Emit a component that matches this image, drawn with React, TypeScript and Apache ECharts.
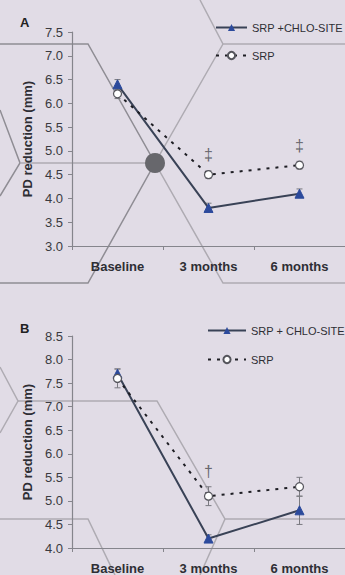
import React, { useEffect, useRef } from "react";
import * as echarts from "echarts";

const categories = ["Baseline", "3 months", "6 months"];

// Panel A
const comboNameA = "SRP +CHLO-SITE";
const comboA = [6.4, 3.8, 4.1];
const comboErrA = [[6.3, 6.5], [3.72, 3.9], [4.02, 4.2]];
const srpA = [6.2, 4.5, 4.7];
const srpErrA = [[6.1, 6.3], [4.42, 4.58], [4.62, 4.78]];
const marksA = [[1, 4.93, "‡"], [2, 5.12, "‡"]];
const yTicksA = { min: 3, max: 7.5, interval: 0.5 };

// Panel B
const comboNameB = "SRP + CHLO-SITE";
const comboB = [7.7, 4.2, 4.8];
const comboErrB = [[7.6, 7.8], [4.15, 4.28], [4.5, 5.1]];
const srpB = [7.6, 5.1, 5.3];
const srpErrB = [[7.4, 7.8], [4.9, 5.3], [5.1, 5.5]];
const marksB = [[1, 5.62, "†"]];
const yTicksB = { min: 4, max: 8.5, interval: 0.5 };

const srpName = "SRP";

const FONT = "Liberation Sans, Arial, sans-serif";
const BG = "#e1dce6";

function errSeries(errs: number[][], axisIdx: number) {
  return {
    type: "custom",
    xAxisIndex: axisIdx,
    yAxisIndex: axisIdx,
    z: 1,
    silent: true,
    data: errs.map((e, i) => [i, e[0], e[1]]),
    renderItem: (params: any, api: any) => {
      const lo = api.coord([api.value(0), api.value(1)]);
      const hi = api.coord([api.value(0), api.value(2)]);
      const w = 3;
      const style = { stroke: "#7a7a80", lineWidth: 1 };
      return {
        type: "group",
        children: [
          { type: "line", shape: { x1: lo[0], y1: lo[1], x2: hi[0], y2: hi[1] }, style },
          { type: "line", shape: { x1: lo[0] - w, y1: lo[1], x2: lo[0] + w, y2: lo[1] }, style },
          { type: "line", shape: { x1: hi[0] - w, y1: hi[1], x2: hi[0] + w, y2: hi[1] }, style },
        ],
      };
    },
  };
}

function comboSeries(name: string, data: number[], idx: number) {
  return {
    name,
    type: "line",
    xAxisIndex: idx,
    yAxisIndex: idx,
    data,
    z: 3,
    symbol: "triangle",
    symbolSize: 9,
    lineStyle: { color: "#394256", width: 2 },
    itemStyle: { color: "#2c4a9c", borderColor: "#2c4a9c" },
  };
}

function srpSeries(data: number[], idx: number) {
  return {
    name: srpName,
    type: "line",
    xAxisIndex: idx,
    yAxisIndex: idx,
    data,
    z: 4,
    symbol: "circle",
    symbolSize: 8,
    lineStyle: { color: "#1e1e24", width: 2, type: [3, 6] },
    itemStyle: { color: "#ffffff", borderColor: "#55555c", borderWidth: 1.2 },
  };
}

function markSeries(marks: any[], idx: number) {
  return {
    type: "scatter",
    xAxisIndex: idx,
    yAxisIndex: idx,
    symbolSize: 1,
    itemStyle: { color: "rgba(0,0,0,0)" },
    silent: true,
    data: marks.map((m) => [m[0], m[1], m[2]]),
    label: {
      show: true,
      position: "inside",
      formatter: (p: any) => p.value[2],
      color: "#48484e",
      fontSize: 16,
      fontFamily: FONT,
    },
  };
}

function yAxis(t: any, idx: number) {
  return {
    type: "value",
    gridIndex: idx,
    min: t.min,
    max: t.max,
    interval: t.interval,
    name: "PD reduction (mm)",
    nameLocation: "middle",
    nameGap: 38,
    nameTextStyle: { fontFamily: FONT, fontSize: 13, fontWeight: "bold", color: "#2e2e34" },
    axisLine: { show: true, lineStyle: { color: "#85858c", width: 1.2 } },
    axisTick: { show: true, length: 4, lineStyle: { color: "#85858c" } },
    axisLabel: {
      fontFamily: FONT,
      fontSize: 13,
      color: "#3a3a40",
      margin: 9,
      formatter: (v: number) => v.toFixed(1),
    },
    splitLine: { show: false },
  };
}

function xAxis(idx: number) {
  return {
    type: "category",
    gridIndex: idx,
    data: categories,
    boundaryGap: true,
    axisLine: { show: true, lineStyle: { color: "#85858c", width: 1.2 } },
    axisTick: { show: true, length: 4, lineStyle: { color: "#85858c" } },
    axisLabel: { fontFamily: FONT, fontSize: 13, fontWeight: "bold", color: "#2e2e34", margin: 14 },
  };
}

const hexLines: number[][][] = [
  // panel A
  [[0, 44], [88, 44], [155, 163], [88, 283], [0, 283]],
  [[0, 110], [20, 163], [0, 196]],
  [[20, 163], [155, 163]],
  [[200, 0], [223, 44], [345, 44]],
  [[223, 44], [155, 163], [223, 283], [345, 283]],
  // panel B
  [[0, 367], [18, 401], [0, 433]],
  [[18, 401], [157, 401], [225, 519], [345, 519]],
  [[225, 519], [200, 575]],
  [[0, 519], [88, 519], [115, 575]],
];

export default function App() {
  const ref = useRef<HTMLDivElement>(null);
  useEffect(() => {
    if (!ref.current) return;
    const chart = echarts.init(ref.current, undefined, { renderer: "svg" });
    const graphics: any[] = hexLines.map((pts, i) => ({
      type: "polyline",
      z: -10,
      silent: true,
      shape: { points: pts },
      style: { stroke: i < 2 ? "#8f8d94" : "#aeabb2", lineWidth: 1.5, fill: null },
    }));
    graphics.push({
      type: "circle",
      z: -9,
      shape: { cx: 155, cy: 163, r: 10 },
      style: { fill: "#67676c" },
    });
    graphics.push({
      type: "text",
      left: 20,
      top: 16,
      style: { text: "A", fontFamily: FONT, fontSize: 13, fontWeight: "bold", fill: "#222" },
    });
    graphics.push({
      type: "text",
      left: 20,
      top: 322,
      style: { text: "B", fontFamily: FONT, fontSize: 13, fontWeight: "bold", fill: "#222" },
    });

    chart.setOption({
      animation: false,
      backgroundColor: BG,
      textStyle: { fontFamily: FONT },
      grid: [
        { left: 72, top: 32, width: 276, height: 214 },
        { left: 72, top: 336, width: 276, height: 213 },
      ],
      xAxis: [xAxis(0), xAxis(1)],
      yAxis: [yAxis(yTicksA, 0), yAxis(yTicksB, 1)],
      legend: [
        {
          data: [comboNameA, srpName],
          orient: "vertical",
          left: 215,
          top: 22,
          padding: 0,
          itemWidth: 31,
          itemHeight: 9,
          itemGap: 17,
          textStyle: { fontFamily: FONT, fontSize: 11, color: "#2e2e34" },
          selectedMode: false,
        },
        {
          data: [comboNameB, srpName],
          orient: "vertical",
          left: 207,
          top: 325,
          padding: 0,
          itemWidth: 38,
          itemHeight: 9,
          itemGap: 18,
          textStyle: { fontFamily: FONT, fontSize: 11, color: "#2e2e34" },
          selectedMode: false,
        },
      ],
      graphic: graphics,
      series: [
        errSeries(comboErrA, 0),
        errSeries(srpErrA, 0),
        comboSeries(comboNameA, comboA, 0),
        srpSeries(srpA, 0),
        markSeries(marksA, 0),
        errSeries(comboErrB, 1),
        errSeries(srpErrB, 1),
        comboSeries(comboNameB, comboB, 1),
        srpSeries(srpB, 1),
        markSeries(marksB, 1),
      ],
    });
    return () => chart.dispose();
  }, []);
  return (
    <div
      ref={ref}
      style={{ position: "fixed", left: 0, top: 0, width: 345, height: 575 }}
    />
  );
}
